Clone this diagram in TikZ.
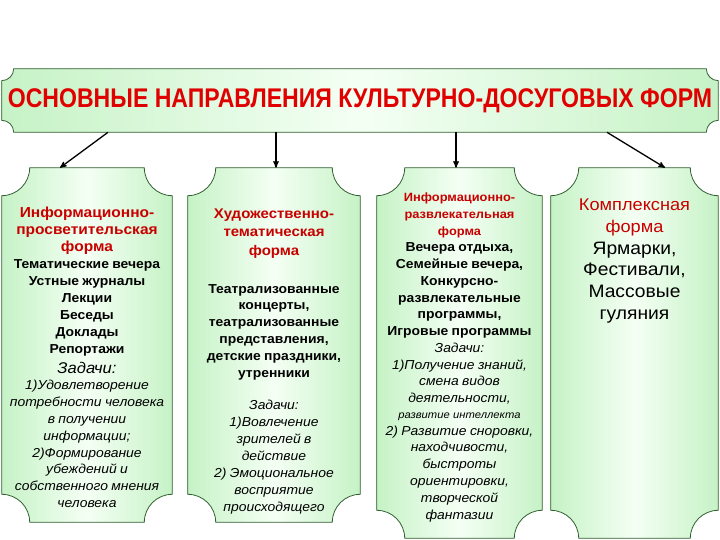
\documentclass[tikz,border=0pt]{standalone}
\usepackage{fontspec}
\setmainfont{Liberation Sans}[FakeStretch=1.07]
\newfontfamily\titlefont[FakeStretch=0.855]{Liberation Sans}
\usepackage[usenames,dvipsnames,svgnames,table]{xcolor}
\usetikzlibrary{arrows,positioning,backgrounds}

\definecolor{leaf}{RGB}{198,242,198}
\definecolor{leaflight}{RGB}{244,255,244}
\definecolor{leafline}{RGB}{50,95,50}
\definecolor{formred}{RGB}{200,0,0}
\definecolor{titlered}{RGB}{225,0,0}

\begin{document}
\begin{tikzpicture}[x=1pt, y=1pt, semithick,
		card/.style={inner sep=0pt, minimum width=#1},
		formtext/.style={inner sep=0pt, text width=#1, align=center}]
	\useasboundingbox (0,0) rectangle (720,540);

	\node[card=716, minimum height=63, text=titlered,
		font=\titlefont\bfseries\fontsize{27}{30}\selectfont] (title) at (360,439.5)
		{ОСНОВНЫЕ НАПРАВЛЕНИЯ КУЛЬТУРНО-ДОСУГОВЫХ ФОРМ};

	\node[card=170, minimum height=354] (info) at (87,195) {};
	\node[card=172, minimum height=354] (art)  at (274,195) {};
	\node[card=165, minimum height=370] (fun)  at (459.5,187) {};
	\node[card=167, minimum height=370] (mix)  at (634.5,187) {};

	\node[formtext=180, below=38.6 of info.north] (info text) {
		{\color{formred}\bfseries\fontsize{14.5}{17}\selectfont Информационно-\\просветительская\\форма\par}
		{\bfseries\fontsize{13}{17}\selectfont Тематические вечера\\Устные журналы\\Лекции\\Беседы\\Доклады\\Репортажи\par}
		{\itshape\fontsize{15.5}{20}\selectfont Задачи:\par}
		{\itshape\fontsize{13}{16.8}\selectfont 1)Удовлетворение\\потребности человека\\в получении\\информации;\\2)Формирование\\убеждений и\\собственного мнения\\человека\par}};
	\node[formtext=180, below=40.6 of art.north] (art text) {
		{\color{formred}\bfseries\fontsize{14}{18.5}\selectfont Художественно-\\тематическая\\форма\par}
		\vspace{21pt}
		{\bfseries\fontsize{13}{16.8}\selectfont Театрализованные\\концерты,\\театрализованные\\представления,\\детские праздники,\\утренники\par}
		\vspace{16pt}
		{\itshape\fontsize{13}{16.9}\selectfont Задачи:\\1)Вовлечение\\зрителей в\\действие\\2) Эмоциональное\\восприятие\\происходящего\par}};
	\node[formtext=175, below=25.2 of fun.north] (fun text) {
		{\color{formred}\bfseries\fontsize{12}{16.7}\selectfont Информационно-\\развлекательная\\форма\par}
		{\bfseries\fontsize{13}{16.7}\selectfont Вечера отдыха,\\Семейные вечера,\\Конкурсно-\\развлекательные\\программы,\\Игровые программы\par}
		{\itshape\fontsize{13}{16.8}\selectfont Задачи:\\1)Получение знаний,\\смена видов\\деятельности,\par}
		{\itshape\fontsize{10.5}{15.5}\selectfont развитие интеллекта\par}
		{\itshape\fontsize{13}{16.9}\selectfont 2) Развитие сноровки,\\находчивости,\\быстроты\\ориентировки,\\творческой\\фантазии\par}};
	\node[formtext=175, below=31.2 of mix.north] (mix text) {
		{\color{formred}\fontsize{17}{21.5}\selectfont Комплексная\\форма\par}
		{\fontsize{18}{21.7}\selectfont Ярмарки,\\Фестивали,\\Массовые\\гуляния\par}};

	\begin{scope}[on background layer]
		\foreach \card/\rad in {title/12, info/28, art/28, fun/28, mix/28}
			\path[draw=leafline, line width=0.8pt, left color=leaf, right color=leaf, middle color=leaflight]
				([xshift=\rad]\card.north west) -- ([xshift=-\rad]\card.north east)
				arc[start angle=180, end angle=270, radius=\rad]
				-- ([yshift=\rad]\card.south east)
				arc[start angle=90, end angle=180, radius=\rad]
				-- ([xshift=\rad]\card.south west)
				arc[start angle=0, end angle=90, radius=\rad]
				-- ([yshift=-\rad]\card.north west)
				arc[start angle=270, end angle=360, radius=\rad] -- cycle;
	\end{scope}

	\path[->, >=stealth', line width=1.3pt]
		([xshift=-252]title.south) edge ([xshift=-27]info.north)
		([xshift=-84]title.south)  edge ([xshift=2]art.north)
		([xshift=96]title.south)   edge ([xshift=-3.5]fun.north)
		([xshift=247]title.south)  edge ([xshift=30.5]mix.north);
\end{tikzpicture}
\end{document}
